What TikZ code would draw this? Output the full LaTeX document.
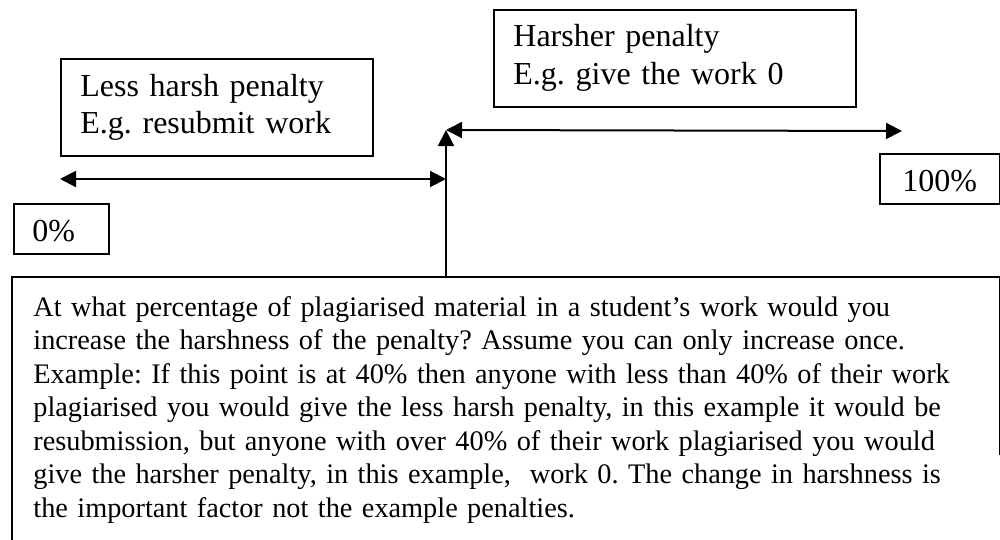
\documentclass[tikz,border=0pt]{standalone}
\usepackage{fontspec}
\setmainfont{Liberation Serif}
\usetikzlibrary{arrows.meta,calc}
\tikzset{
  frame/.style={draw, line width=1.1pt, inner sep=0pt, anchor=north west},
  words/.style={anchor=base west, inner sep=0pt, align=left,
                font=\fontsize{16pt}{18.5pt}\selectfont\frenchspacing},
  longwords/.style={words, font=\fontsize{14.15pt}{16.75pt}\selectfont\frenchspacing},
  link/.style={line width=1pt, {Triangle[length=8pt,width=8pt]}-{Triangle[length=8pt,width=8pt]}},
  rise/.style={line width=1pt, -{Triangle[length=8pt,width=8pt]}},
}
\begin{document}
\begin{tikzpicture}[x=0.5pt,y=-0.5pt]
\useasboundingbox (0,0) rectangle (1000,540);

% penalty boxes
\node[frame, minimum width=156pt, minimum height=48.5pt] (lessbox) at (60,58) {};
\node[words, text width=150pt] (lesstext) at (80,97) {Less harsh penalty\\E.g. resubmit work};

\node[frame, minimum width=181pt, minimum height=48.5pt] (harshbox) at (493,9) {};
\node[words, text width=170pt] (harshtext) at (513,47) {Harsher penalty\\E.g. give the work 0};

% scale ends
\node[frame, minimum width=47.5pt, minimum height=25pt] (zerobox) at (13,203) {};
\node[words] (zerotext) at (32,241) {0\%};

\node[frame, minimum width=60pt, minimum height=25pt] (fullbox) at (879,153) {};
\node[words] (fulltext) at (902,191) {100\%};

% question panel (open at the bottom)
\node[inner sep=0pt, anchor=north west, minimum width=493.5pt, minimum height=140pt] (question) at (12,277) {};
\draw[line width=1.1pt] (question.south west) -- (question.north west) -- (question.north east) -- ++(0,178);
\node[longwords, text width=485pt] (qtext) at (33,316) {At what percentage of plagiarised material in a student’s work would you\\
increase the harshness of the penalty? Assume you can only increase once.\\
Example: If this point is at 40\% then anyone with less than 40\% of their work\\
plagiarised you would give the less harsh penalty, in this example it would be\\
resubmission, but anyone with over 40\% of their work plagiarised you would\\
give the harsher penalty, in this example,\ \ work 0. The change in harshness is\\
the important factor not the example penalties.};

% threshold marker and ranges
\coordinate (meet) at (446,130);
\coordinate (lowend) at (60,179);
\coordinate (highend) at (902,131);
\draw[rise] (question.north -| meet) -- (meet);
\draw[link] (lowend) -- (lowend -| meet);
\draw[link] (meet) -- (highend);
\end{tikzpicture}
\end{document}
